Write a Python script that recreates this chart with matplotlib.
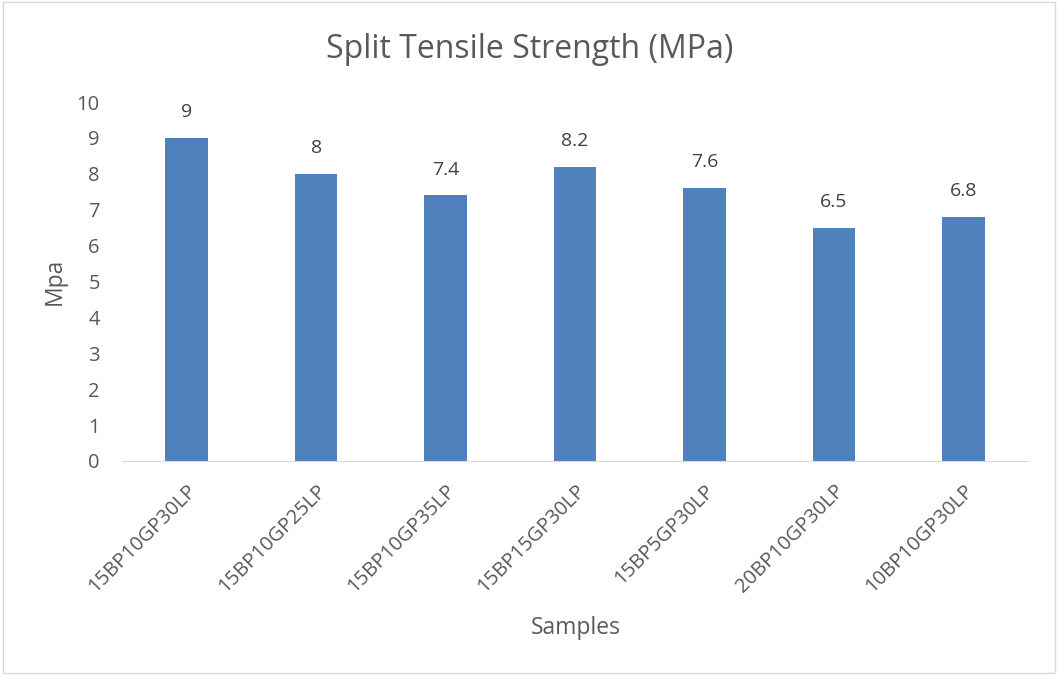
import matplotlib.pyplot as plt
import numpy as np

samples = ['15BP10GP30LP', '15BP10GP25LP', '15BP10GP35LP', '15BP15GP30LP',
           '15BP5GP30LP', '20BP10GP30LP', '10BP10GP30LP']
strength = [9, 8, 7.4, 8.2, 7.6, 6.5, 6.8]
value_labels = ['9', '8', '7.4', '8.2', '7.6', '6.5', '6.8']
yticks = list(range(0, 11))

plt.rcParams['font.family'] = ['Open Sans', 'DejaVu Sans']
W, H = 1058, 675

fig = plt.figure(figsize=(10.58, 6.75), dpi=100)
ax = fig.add_axes([122 / W, 1 - 461 / H, 906 / W, 359 / H])

x = np.arange(len(samples))
bars = ax.bar(x, strength, width=0.33, color='#4F81BD')
for b, lab in zip(bars, value_labels):
    ax.annotate(lab, (b.get_x() + b.get_width() / 2, b.get_height()),
                xytext=(0, 12), textcoords='offset points',
                ha='center', va='bottom', fontsize=14, color='#404040')

ax.set_xlim(-0.5, len(samples) - 0.5)
ax.set_ylim(0, 10)
ax.set_yticks(yticks)
ax.set_xticks(x)
ax.set_xticklabels(samples, rotation=45, ha='right', rotation_mode='anchor',
                   fontsize=14.5, color='#595959')
ax.tick_params(axis='y', labelsize=14.5, labelcolor='#595959', length=0, pad=16)
ax.tick_params(axis='x', length=0, pad=14)
for s in ['top', 'right', 'left']:
    ax.spines[s].set_visible(False)
ax.spines['bottom'].set_color('#D9D9D9')

fig.text(55 / W, 1 - 281 / H, 'Mpa', rotation=90, ha='center', va='center',
         fontsize=16.5, color='#595959')
fig.text(576 / W, 1 - 628 / H, 'Samples', ha='center', va='center',
         fontsize=16.5, color='#595959')
fig.text(530 / W, 1 - 50 / H, 'Split Tensile Strength (MPa)', ha='center',
         va='center', fontsize=23, color='#595959')

fig.patches.append(plt.Rectangle((0.003, 0.003), 0.994, 0.994, transform=fig.transFigure,
                                 fill=False, edgecolor='#D9D9D9', linewidth=1))

fig.savefig('out.png', dpi=100)
